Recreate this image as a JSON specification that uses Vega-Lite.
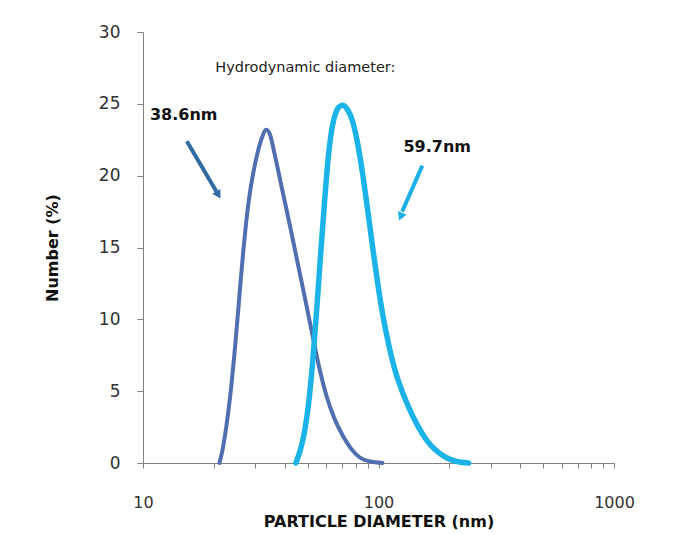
{
  "$schema": "https://vega.github.io/schema/vega-lite/v6.json",
  "width": 471,
  "height": 431,
  "autosize": "none",
  "padding": {"left": 143, "top": 32, "right": 64, "bottom": 72},
  "background": "white",
  "config": {
    "view": {"stroke": null},
    "font": "DejaVu Sans"
  },
  "datasets": {
    "curves": [
      {"d": 21.12, "n": 0, "s": "A"},
      {"d": 21.69, "n": 0.8, "s": "A"},
      {"d": 22.33, "n": 2.0, "s": "A"},
      {"d": 23.00, "n": 3.5, "s": "A"},
      {"d": 23.69, "n": 5.3, "s": "A"},
      {"d": 24.39, "n": 7.4, "s": "A"},
      {"d": 25.12, "n": 9.8, "s": "A"},
      {"d": 25.87, "n": 12.3, "s": "A"},
      {"d": 26.64, "n": 14.7, "s": "A"},
      {"d": 27.44, "n": 16.8, "s": "A"},
      {"d": 28.26, "n": 18.5, "s": "A"},
      {"d": 29.39, "n": 20.2, "s": "A"},
      {"d": 30.56, "n": 21.5, "s": "A"},
      {"d": 31.78, "n": 22.5, "s": "A"},
      {"d": 33.38, "n": 23.2, "s": "A"},
      {"d": 34.71, "n": 22.8, "s": "A"},
      {"d": 36.10, "n": 21.6, "s": "A"},
      {"d": 39.04, "n": 19.0, "s": "A"},
      {"d": 42.22, "n": 16.4, "s": "A"},
      {"d": 45.66, "n": 13.7, "s": "A"},
      {"d": 49.38, "n": 11.0, "s": "A"},
      {"d": 52.89, "n": 8.6, "s": "A"},
      {"d": 56.10, "n": 6.6, "s": "A"},
      {"d": 60.08, "n": 4.7, "s": "A"},
      {"d": 64.99, "n": 3.1, "s": "A"},
      {"d": 70.29, "n": 1.95, "s": "A"},
      {"d": 76.03, "n": 1.05, "s": "A"},
      {"d": 83.03, "n": 0.4, "s": "A"},
      {"d": 92.47, "n": 0.1, "s": "A"},
      {"d": 104.0, "n": 0, "s": "A"},
      {"d": 44.57, "n": 0, "s": "B"},
      {"d": 46.56, "n": 0.9, "s": "B"},
      {"d": 48.42, "n": 2.1, "s": "B"},
      {"d": 50.37, "n": 4.0, "s": "B"},
      {"d": 52.39, "n": 6.8, "s": "B"},
      {"d": 54.49, "n": 10.4, "s": "B"},
      {"d": 56.67, "n": 14.3, "s": "B"},
      {"d": 58.95, "n": 18.1, "s": "B"},
      {"d": 61.31, "n": 21.4, "s": "B"},
      {"d": 63.77, "n": 23.5, "s": "B"},
      {"d": 66.33, "n": 24.5, "s": "B"},
      {"d": 68.24, "n": 24.8, "s": "B"},
      {"d": 70.57, "n": 24.9, "s": "B"},
      {"d": 73.82, "n": 24.6, "s": "B"},
      {"d": 77.53, "n": 23.8, "s": "B"},
      {"d": 81.42, "n": 22.3, "s": "B"},
      {"d": 85.50, "n": 20.2, "s": "B"},
      {"d": 89.80, "n": 17.7, "s": "B"},
      {"d": 94.30, "n": 15.1, "s": "B"},
      {"d": 99.02, "n": 12.6, "s": "B"},
      {"d": 104.0, "n": 10.4, "s": "B"},
      {"d": 110.3, "n": 8.3, "s": "B"},
      {"d": 116.9, "n": 6.6, "s": "B"},
      {"d": 124.0, "n": 5.3, "s": "B"},
      {"d": 134.1, "n": 3.9, "s": "B"},
      {"d": 146.6, "n": 2.6, "s": "B"},
      {"d": 160.1, "n": 1.6, "s": "B"},
      {"d": 174.8, "n": 0.9, "s": "B"},
      {"d": 192.8, "n": 0.4, "s": "B"},
      {"d": 212.7, "n": 0.12, "s": "B"},
      {"d": 241.5, "n": 0, "s": "B"}
    ],
    "labels": [
      {"d": 48.9, "n": 27.5, "text": "Hydrodynamic diameter:", "kind": "title"},
      {"d": 10.7, "n": 24.2, "text": "38.6nm", "kind": "value"},
      {"d": 127.6, "n": 22.0, "text": "59.7nm", "kind": "value"}
    ],
    "arrowA": [
      {"d": 15.35, "n": 22.4, "d2": 20.5, "n2": 18.9}
    ],
    "arrowAhead": [
      {"d": 20.9, "n": 18.66}
    ],
    "arrowB": [
      {"d": 153.5, "n": 20.7, "d2": 126.0, "n2": 17.5}
    ],
    "arrowBhead": [
      {"d": 124.2, "n": 17.15}
    ]
  },
  "encoding": {
    "x": {
      "field": "d", "type": "quantitative",
      "scale": {"type": "log", "domain": [10, 1000], "nice": false},
      "axis": {
        "title": "PARTICLE DIAMETER  (nm)",
        "titleFont": "DejaVu Sans",
        "titleFontWeight": "bold",
        "titleFontSize": 16,
        "titleColor": "#111111",
        "titlePadding": 3,
        "values": [10, 20, 30, 40, 50, 60, 70, 80, 90, 100, 200, 300, 400, 500, 600, 700, 800, 900, 1000],
        "format": "d",
        "labelExpr": "(datum.value == 10 || datum.value == 100 || datum.value == 1000) ? datum.label : ''",
        "labelFontSize": 16,
        "labelColor": "#333333",
        "labelPadding": 26,
        "labelFlush": false,
        "labelOverlap": false,
        "tickSize": 5,
        "tickColor": "#808080",
        "domainColor": "#808080",
        "grid": false
      }
    },
    "y": {
      "field": "n", "type": "quantitative",
      "scale": {"domain": [0, 30], "nice": false},
      "axis": {
        "title": "Number (%)",
        "titleFont": "DejaVu Sans",
        "titleFontWeight": "bold",
        "titleFontSize": 16,
        "titleColor": "#111111",
        "titlePadding": 38,
        "values": [0, 5, 10, 15, 20, 25, 30],
        "labelFontSize": 17,
        "labelColor": "#333333",
        "labelPadding": 17,
        "tickSize": 6,
        "tickColor": "#808080",
        "domainColor": "#808080",
        "grid": false
      }
    }
  },
  "layer": [
    {
      "data": {"name": "curves"},
      "transform": [{"filter": "datum.s == 'A'"}],
      "mark": {"type": "line", "interpolate": "monotone", "strokeWidth": 4, "strokeCap": "round", "strokeJoin": "round", "color": "#4f6fb0"},
      "encoding": {}
    },
    {
      "data": {"name": "curves"},
      "transform": [{"filter": "datum.s == 'B'"}],
      "mark": {"type": "line", "interpolate": "monotone", "strokeWidth": 5.5, "strokeCap": "round", "strokeJoin": "round", "color": "#1cb4e8"},
      "encoding": {}
    },
    {
      "data": {"name": "labels"},
      "mark": {"type": "text", "align": "left", "baseline": "middle", "fontSize": 16, "fontWeight": "bold", "color": "#111111"},
      "transform": [{"filter": "datum.kind == 'value'"}],
      "encoding": {"text": {"field": "text"}}
    },
    {
      "data": {"name": "labels"},
      "mark": {"type": "text", "align": "center", "baseline": "middle", "fontSize": 14.5, "color": "#222222"},
      "transform": [{"filter": "datum.kind == 'title'"}],
      "encoding": {"text": {"field": "text"}}
    },
    {
      "data": {"name": "arrowA"},
      "mark": {"type": "rule", "strokeWidth": 4, "color": "#2f6aa3"},
      "encoding": {"x2": {"field": "d2"}, "y2": {"field": "n2"}}
    },
    {
      "data": {"name": "arrowAhead"},
      "mark": {"type": "point", "shape": "triangle-up", "filled": true, "size": 90, "angle": 149, "color": "#2f6aa3", "opacity": 1},
      "encoding": {}
    },
    {
      "data": {"name": "arrowB"},
      "mark": {"type": "rule", "strokeWidth": 4, "color": "#1cb0e6"},
      "encoding": {"x2": {"field": "d2"}, "y2": {"field": "n2"}}
    },
    {
      "data": {"name": "arrowBhead"},
      "mark": {"type": "point", "shape": "triangle-up", "filled": true, "size": 90, "angle": 203, "color": "#1cb0e6", "opacity": 1},
      "encoding": {}
    }
  ]
}
